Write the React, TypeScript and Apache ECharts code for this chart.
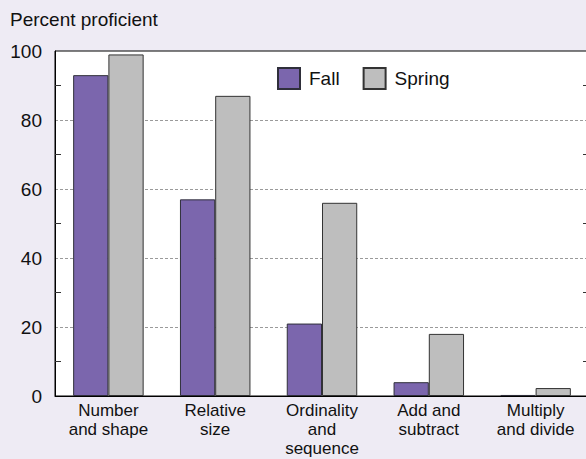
import React, { useEffect, useRef } from "react";
import * as echarts from "echarts";

const categories = [
  "Number\nand shape",
  "Relative\nsize",
  "Ordinality\nand\nsequence",
  "Add and\nsubtract",
  "Multiply\nand divide",
];
const fallValues = [93, 57, 21, 4, 0.3];
const springValues = [99, 87, 56, 18, 2.3];
const yTicks = { min: 0, max: 100, interval: 20 };
const yTitle = "Percent proficient";

const FONT = "'Liberation Sans', Arial, Helvetica, sans-serif";

export default function App() {
  const ref = useRef<HTMLDivElement>(null);
  useEffect(() => {
    document.body.style.margin = "0";
    if (!ref.current) return;
    const chart = echarts.init(ref.current, undefined, { renderer: "svg" });
    const yAxisBase = {
      type: "value",
      min: yTicks.min,
      max: yTicks.max,
      interval: yTicks.interval,
      axisLine: { show: true, lineStyle: { color: "#000", width: 1 } },
      axisTick: { show: false, inside: true },
      minorTick: { show: true, splitNumber: 2, length: 6, lineStyle: { color: "#333", width: 1 } },
    };
    chart.setOption({
      animation: false,
      backgroundColor: "#EEEBF4",
      textStyle: { fontFamily: FONT },
      graphic: [
        {
          type: "text",
          left: 10,
          top: 10,
          style: { text: yTitle, font: `19px ${FONT}`, fill: "#111" },
        },
      ],
      legend: {
        left: 277,
        top: 67,
        padding: 0,
        itemWidth: 22,
        itemHeight: 21,
        itemGap: 23,
        icon: "rect",
        textStyle: { fontSize: 19, color: "#111", fontFamily: FONT, padding: [0, 0, 0, 4] },
        data: ["Fall", "Spring"],
      },
      grid: {
        left: 55,
        top: 51,
        bottom: 63,
        right: -3,
        outerBoundsMode: "none",
        containLabel: false,
        show: true,
        backgroundColor: "#fff",
        borderColor: "#000",
        borderWidth: 1,
      },
      xAxis: {
        type: "category",
        data: categories,
        axisLine: { show: true, lineStyle: { color: "#000", width: 1 } },
        axisTick: { show: false },
        axisLabel: {
          color: "#111",
          fontSize: 17,
          lineHeight: 19,
          margin: 5,
          fontFamily: FONT,
          interval: 0,
        },
      },
      yAxis: [
        {
          ...yAxisBase,
          position: "left",
          axisLabel: { color: "#111", fontSize: 19, margin: 13, fontFamily: FONT },
          splitLine: {
            show: true,
            showMinLine: false,
            showMaxLine: false,
            lineStyle: { color: "#9a9a9a", type: [3, 2], width: 1 },
          },
        },
        {
          ...yAxisBase,
          position: "right",
          axisLabel: { show: false },
          splitLine: { show: false },
        },
      ],
      series: [
        {
          name: "Fall",
          type: "bar",
          data: fallValues,
          barGap: "0%",
          barCategoryGap: "34%",
          itemStyle: { color: "#7B66AD", borderColor: "#2f2f3a", borderWidth: 1 },
        },
        {
          name: "Spring",
          type: "bar",
          data: springValues,
          barGap: "0%",
          barCategoryGap: "34%",
          itemStyle: { color: "#BEBEBE", borderColor: "#333", borderWidth: 1 },
        },
      ],
    });
    return () => chart.dispose();
  }, []);
  return <div ref={ref} style={{ width: 586, height: 459 }} />;
}
